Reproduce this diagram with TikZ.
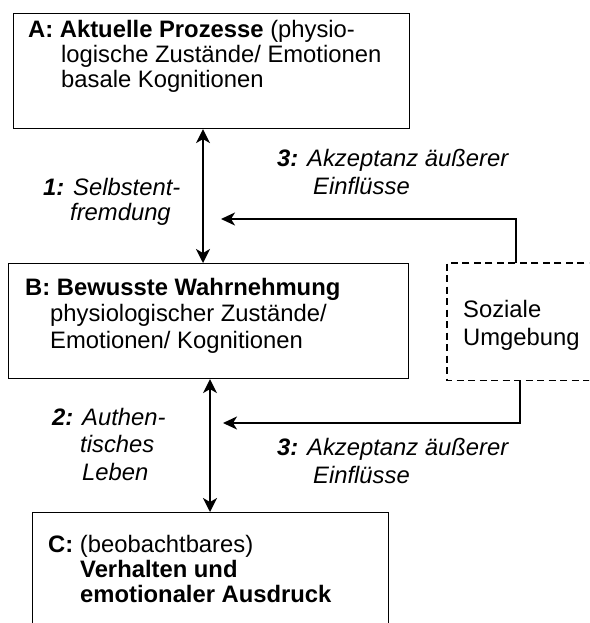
\documentclass[tikz,border=0pt]{standalone}
\usepackage{fontspec}
\setmainfont{Liberation Sans}
\usetikzlibrary{arrows.meta}
\begin{document}
\begin{tikzpicture}[x=1pt,y=-1pt,
  box/.style={draw, line width=1.1pt, anchor=north west, inner sep=0pt},
  txt/.style={anchor=base west, inner sep=0pt, align=left},
  lbl/.style={anchor=base west, inner sep=0pt, align=left},
  dashbox/.style={line width=1.6pt, dash pattern=on 7pt off 4.5pt},
  arr/.style={line width=1.7pt, -{Stealth[length=14pt,width=13pt,inset=4pt]}},
  darr/.style={line width=1.7pt, {Stealth[length=14pt,width=14pt,inset=4pt]}-{Stealth[length=14pt,width=14pt,inset=4pt]}}]
\useasboundingbox (0,0) rectangle (589,623);
\clip (0,0) rectangle (589,623);
% boxes
\node[box, minimum width=396pt, minimum height=115pt] (A) at (13,13) {};
\node[box, minimum width=400pt, minimum height=115pt] (B) at (8,263) {};
\node[anchor=north west, inner sep=0pt, minimum width=160pt, minimum height=117pt] (S) at (447,263) {};
\draw[dashbox] (S.north east) -- (S.north west) -- (S.south west) -- (S.south east);
\node[box, minimum width=356pt, minimum height=125pt] (C) at (32,512) {};
% texts (anchor = baseline of the last line)
\node[txt, font=\fontsize{23.8}{25}\selectfont] (At) at (28,88)
  {\textbf{A: Aktuelle Prozesse} (physio-\\\hspace*{33pt}logische Zustände/ Emotionen\\\hspace*{33pt}basale Kognitionen};
\node[txt, font=\fontsize{23.8}{26.5}\selectfont] (Bt) at (25,348)
  {\textbf{B: Bewusste Wahrnehmung}\\\hspace*{25pt}physiologischer Zustände/\\\hspace*{25pt}Emotionen/ Kognitionen};
\node[txt, font=\fontsize{23.8}{28}\selectfont] (St) at (463,345) {Soziale\\Umgebung};
\node[txt, font=\fontsize{23.8}{25}\selectfont] (Ct) at (48,602)
  {\textbf{C:} (beobachtbares)\\\hspace*{32pt}\textbf{Verhalten und}\\\hspace*{32pt}\textbf{emotionaler Ausdruck}};
% labels
\node[lbl, font=\fontsize{23.8}{25.5}\selectfont\itshape] (L1) at (43,220.5) {\textbf{1:} Selbstent-\\\hspace*{27pt}fremdung};
\node[lbl, font=\fontsize{23.8}{28}\selectfont\itshape] (L3a) at (277,194) {\textbf{3:} Akzeptanz äußerer\\\hspace*{36pt}Einflüsse};
\node[lbl, font=\fontsize{23.8}{27.5}\selectfont\itshape] (L2) at (52,480) {\textbf{2:} Authen-\\\hspace*{28pt}tisches\\\hspace*{30pt}Leben};
\node[lbl, font=\fontsize{23.8}{28}\selectfont\itshape] (L3b) at (277,483) {\textbf{3:} Akzeptanz äußerer\\\hspace*{36pt}Einflüsse};
% connector coordinates
\coordinate (x1) at (203,0);
\coordinate (x2) at (210,0);
\coordinate (u1) at (516,219);
\coordinate (u2) at (221,219);
\coordinate (l1) at (520,423);
\coordinate (l2) at (223,423);
% connectors
\draw[darr] (A.south -| x1) -- (B.north -| x1);
\draw[darr] (B.south -| x2) -- (C.north -| x2);
\draw[arr] (S.north -| u1) -- (u1) -- (u2);
\draw[arr] (S.south -| l1) -- (l1) -- (l2);
\end{tikzpicture}
\end{document}
